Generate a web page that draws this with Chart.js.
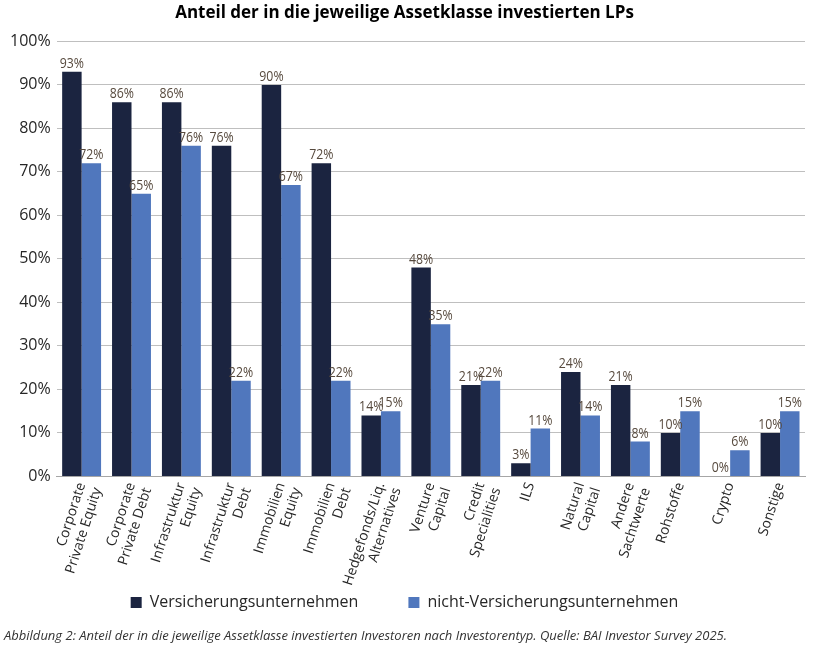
<!DOCTYPE html>
<html>
<head>
<meta charset="utf-8">
<script src="https://cdn.jsdelivr.net/npm/chart.js@4.4.1/dist/chart.umd.min.js"></script>
<style>
  html, body { margin: 0; padding: 0; background: #fff; }
  #wrap { width: 821px; height: 656px; }
</style>
</head>
<body>
<div id="wrap"><canvas id="chart"></canvas></div>
<script>
const categories = [
  ["Corporate", "Private Equity"],
  ["Corporate", "Private Debt"],
  ["Infrastruktur", "Equity"],
  ["Infrastruktur", "Debt"],
  ["Immobilien", "Equity"],
  ["Immobilien", "Debt"],
  ["Hedgefonds/Liq.", "Alternatives"],
  ["Venture", "Capital"],
  ["Credit", "Specialities"],
  "ILS",
  ["Natural", "Capital"],
  ["Andere", "Sachtwerte"],
  "Rohstoffe",
  "Crypto",
  "Sonstige"
];
const versicherer = [93, 86, 86, 76, 90, 72, 14, 48, 21, 3, 24, 21, 10, 0, 10];
const nichtVersicherer = [72, 65, 76, 22, 67, 22, 15, 35, 22, 11, 14, 8, 15, 6, 15];
const seriesNames = ["Versicherungsunternehmen", "nicht-Versicherungsunternehmen"];

const fontFamily = "'Open Sans', 'Noto Sans', sans-serif";

// draws the value above every bar (squeezed a little so it fits the bar width)
const valueLabels = {
  id: "valueLabels",
  afterDatasetsDraw(chart) {
    const ctx = chart.ctx;
    ctx.save();
    ctx.font = "14px " + fontFamily;
    ctx.fillStyle = "#574a3e";
    ctx.textAlign = "center";
    ctx.textBaseline = "bottom";
    chart.data.datasets.forEach((ds, i) => {
      chart.getDatasetMeta(i).data.forEach((bar, j) => {
        const txt = ds.data[j] + "%";
        const w = Math.min(ctx.measureText(txt).width * 0.88, 25);
        ctx.fillText(txt, bar.x, bar.y - 1, w);
      });
    });
    ctx.restore();
  }
};

new Chart(document.getElementById("chart"), {
  type: "bar",
  data: {
    labels: categories,
    datasets: [
      { label: seriesNames[0], data: versicherer, backgroundColor: "#1b2440" },
      { label: seriesNames[1], data: nichtVersicherer, backgroundColor: "#5077bd" }
    ]
  },
  options: {
    responsive: true,
    maintainAspectRatio: false,
    animation: false,
    layout: { padding: { left: 4, right: 16, top: 0, bottom: 4 } },
    datasets: { bar: { categoryPercentage: 0.78, barPercentage: 1.0 } },
    scales: {
      x: {
        grid: { display: false, drawTicks: false },
        border: { color: "#a6a6a6" },
        ticks: {
          color: "#262626",
          font: { family: fontFamily, size: 14 },
          maxRotation: 72,
          minRotation: 72,
          padding: 4,
          autoSkip: false
        },
        // labels hang into the legend's top padding, as in the original
        afterFit(scale) {
          scale.height = 68;
          scale._computeLabelArea = () => undefined; // no clipping of the long labels
        }
      },
      y: {
        min: 0,
        max: 100,
        grid: { color: "#bfbfbf", drawTicks: false },
        border: { display: false },
        ticks: {
          stepSize: 10,
          color: "#262626",
          padding: 6,
          font: { family: fontFamily, size: 16 },
          callback: v => v + "%"
        }
      }
    },
    plugins: {
      title: {
        display: true,
        text: "Anteil der in die jeweilige Assetklasse investierten LPs",
        color: "#000",
        font: { family: fontFamily, size: 17, weight: "bold" },
        padding: { top: 3, bottom: 18 }
      },
      subtitle: {
        display: true,
        position: "bottom",
        align: "start",
        text: "Abbildung 2: Anteil der in die jeweilige Assetklasse investierten Investoren nach Investorentyp. Quelle: BAI Investor Survey 2025.",
        color: "#333",
        font: { family: fontFamily, size: 13, style: "italic" },
        padding: { top: 8, bottom: 8 }
      },
      legend: {
        position: "bottom",
        labels: {
          color: "#262626",
          font: { family: fontFamily, size: 16 },
          boxWidth: 11,
          boxHeight: 11,
          padding: 50
        }
      },
      tooltip: { enabled: false }
    }
  },
  plugins: [valueLabels]
});
</script>
</body>
</html>
